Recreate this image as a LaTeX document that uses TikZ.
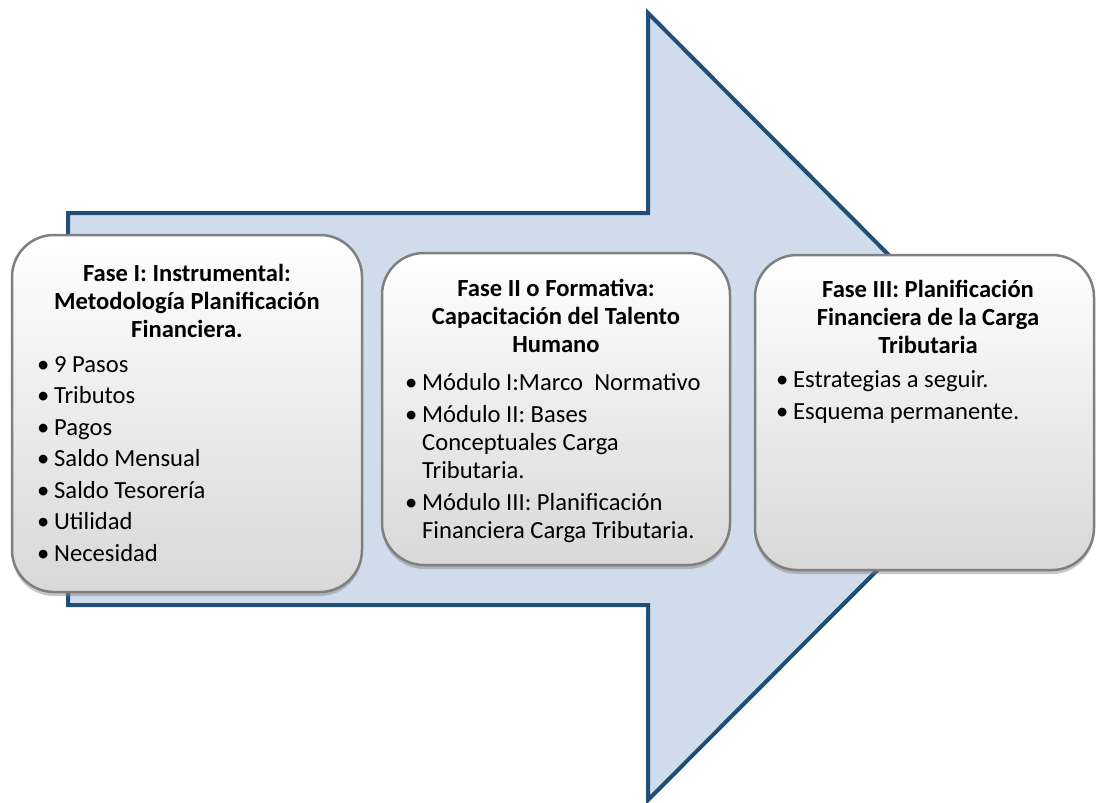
\documentclass[tikz,border=0pt]{standalone}
\usepackage{fontspec}
\setmainfont{Carlito}
\usetikzlibrary{positioning,shadows}
\definecolor{arrowfill}{HTML}{D0DCEC}
\definecolor{arrowline}{HTML}{1F4E79}
\definecolor{boxline}{HTML}{7F7F7F}
\definecolor{boxshade}{HTML}{D8D8D8}
\newcommand{\bul}{\makebox[17pt][l]{\textbullet}}
\newcommand{\cont}{\hspace*{17pt}}
\tikzset{
  bigarrow/.style = {draw=arrowline, fill=arrowfill, line width=4pt, line join=miter},
  phase/.style    = {rectangle, rounded corners=42pt, draw=boxline, line width=2.5pt,
                     top color=white, middle color=white, bottom color=boxshade,
                     drop shadow={shadow xshift=0pt, shadow yshift=-4pt, opacity=0.45},
                     inner sep=0pt},
  ttl/.style      = {font=\bfseries, align=center, inner sep=0pt, anchor=north},
  items/.style    = {align=left, inner sep=0pt, anchor=north west},
}
\begin{document}
\fontsize{24.6}{28}\selectfont
\begin{tikzpicture}[x=1pt, y=-1pt]
  \useasboundingbox (0,0) rectangle (1096,803);
  % big arrow behind the phases
  \draw[bigarrow] (68,213) -- (648,213) -- (648,13) -- (1040,407) -- (648,800)
    -- (648,605) -- (68,605) -- cycle;
  % phase boxes
  \node[phase, minimum width=350pt, minimum height=357pt] (f1) at (187,413.5) {};
  \node[phase, minimum width=348pt, minimum height=312pt] (f2) at (556,409) {};
  \node[phase, minimum width=339pt, minimum height=315pt] (f3) at (924.5,412.5) {};
  % titles
  \node[ttl] (t1) at (187,264) {Fase I: Instrumental:\\ Metodología Planificación\\ Financiera.};
  \node[ttl] (t2) at (556,279) {Fase II o Formativa:\\ Capacitación del Talento\\ Humano};
  \node[ttl] (t3) at (928,280) {Fase III: Planificación\\ Financiera de la Carga\\ Tributaria};
  % lists
  \node[items] (l1) at (37,356) {\bul 9 Pasos\\[3.5pt] \bul Tributos\\[3.5pt] \bul Pagos\\[3.5pt]
    \bul Saldo Mensual\\[3.5pt] \bul Saldo Tesorería\\[3.5pt] \bul Utilidad\\[3.5pt] \bul Necesidad};
  \node[items] (l2) at (405,373) {\bul Módulo I:Marco\ \ Normativo\\[4pt] \bul Módulo II: Bases\\
    \cont Conceptuales Carga\\ \cont Tributaria.\\[4pt] \bul Módulo III: Planificación\\
    \cont Financiera Carga Tributaria.};
  \node[items] (l3) at (776,370) {\bul Estrategias a seguir.\\[4pt] \bul Esquema permanente.};
\end{tikzpicture}
\end{document}
